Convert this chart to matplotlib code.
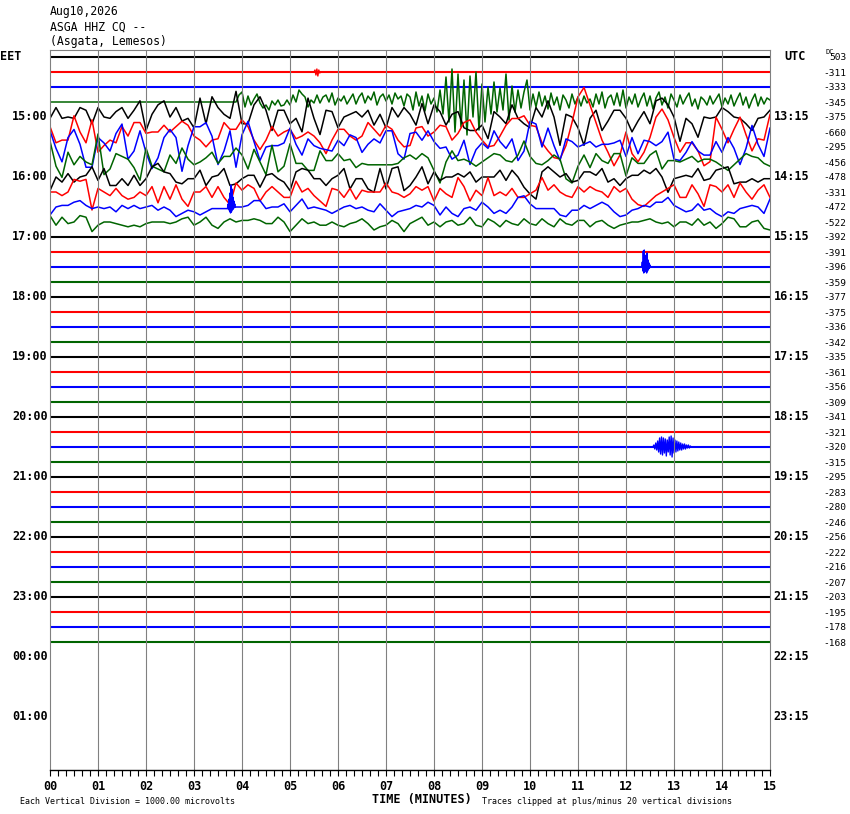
import matplotlib
matplotlib.use("Agg")
import matplotlib.pyplot as plt
import numpy as np

date_text = "Aug10,2026"
station_text = "ASGA HHZ CQ --"
place_text = "(Asgata, Lemesos)"

eet_hours = ["15:00", "16:00", "17:00", "18:00", "19:00", "20:00",
             "21:00", "22:00", "23:00", "00:00", "01:00"]
utc_hours = ["13:15", "14:15", "15:15", "16:15", "17:15", "18:15",
             "19:15", "20:15", "21:15", "22:15", "23:15"]
minute_labels = ["%02d" % m for m in range(16)]

dc_offsets = [503, -311, -333, -345, -375, -660, -295, -456, -478, -331,
              -472, -522, -392, -391, -396, -359, -377, -375, -336, -342,
              -335, -361, -356, -309, -341, -321, -320, -315, -295, -283,
              -280, -246, -256, -222, -216, -207, -203, -195, -178, -168]

trace_colors = ["black", "red", "blue", "#006400"]

# trace deflections in screen pixels (up = positive), spread evenly over 0..15 min
row3 = [0] * 60 + [
    0, 0, 0, 7, 10, -5, 6, -3, 3, 8, -1, -6, -3, -8, 1, -3, 2, -4, -3, 2,
    -3, 7, 0, 12, 8, 5, -5, 2, -1, 7, -1, 5, 7, 0, 9, -3, 4, 1, 6, -2,
    3, 8, -2, 5, 9, -1, 6, 2, 10, -3, 5, 8, 1, 7, -2, 9, 3, 6, -4, 8,
    5, -8, 10, -4, 6, -9, 8, -2, 4, -10, 12, -12, 25, -20, 33, -30, 28, -25, 22, -33,
    26, -15, 30, -28, 18, -20, 15, -12, 20, -10, 14, -8, 28, -18, 16, -10, 12, -6, 10, 22,
    -8, 8, -5, 10, -4, 6, -7, 9, -3, 5, -8, 7, 2, -6, 8, -2, 5, -4, 6, -1,
    3, -5, 8, -2, 10, -6, 4, 7, -3, 9, -4, 12, -6, 5, -2, 8, -5, 3, 9, -4,
    6, -7, 4, 10, -3, 5, -6, 8, 2, -5, 7, -2, 4, 9, -4, 3, -7, 5, 2, -3,
    6, -2, 3, 8, -5, 4, -2, 7, -4, 3, 9, -3, 5, -6, 2, 8, -4, 5, -2, 4, 2]
row4 = [
    -1, 7, -1, 0, -1, 7, 5, -5, 7, 0, -1, 4, 7, -1, 5, 12, -10, 2, 9, 12,
    0, 7, -3, -1, -8, 14, -5, 15, 7, 2, -1,
    19, -5, -5, 9, 15, 5, -10, 5, 5, -5, -1, -11, 14, -1, -13, 5, 4, -8, 0, 2,
    4, 0, 5, -6, 2, -8, 7, 0, 7, 2,
    -6, 10, -5, 9, 4, -6, 2, 4, -8, -10, -10, -6, -16, 4, 0, -5, 9, -1, -5, -8,
    7, 0, 12, 0, -21, 2, 0, -8, -21, -1,
    5, -10, -3, 5, 5, -1, -11, -3, 4, -5, 12, 14, 9, 0, -18, -1, -5, -15, 0, -1,
    0, 7, 4, 0, -1, -5, -10, -1, 0, 5]
row5 = [
    4, -8, -6, -6, 12, 0, -8, 9, -15, -10, -6, -8, 4, -3, 7, 7, -1, 0, 0, 5,
    0, 4, 8, 5, -3, -6, -11, -6, -5, 7, 2,
    2, 9, 4, -6, -13, -6, 4, -3, 0, 2, -5, -3, 0, -3, -8, -16, -6, 2, 2, -3,
    -6, -3, 7, 2, -3, 5, 2, -6, -11, -10,
    3, 4, -3, 0, 5, 4, -6, -1, 7, 9, 0, -6, -11, -10, -3, 5, 10, 10, 12, 5,
    4, -8, -14, -19, -20, -10, 7, 26, 33, 20,
    7, -6, -15, -25, -17, 0, -16, -22, -15, -4, 11, 17, 9, -4, -15, -8, -8, -14, -25, -22,
    11, 2, -8, 2, 11, -2, -14, -5, -6, 13]
row6 = [
    12, -1, -11, 7, 13, 2, -15, -15, 7, 3, -3, 10, 17, -9, -3, 12, -4, -16, -8, 7,
    13, 7, -18, 1, 15, 15, 18, 8, -13, -3, 12,
    -15, 9, 19, 4, -10, 0, 1, 1, 3, 14, 2, -6, 6, 1, -1, -2, -3, 5, 1, 9,
    7, -4, 2, 6, 3, 12, 12, -5, -9, 10,
    11, 5, 12, 4, -1, 0, -9, -6, 5, -13, -2, 3, -1, 12, 4, -1, 6, -10, -3, 19,
    17, 0, 14, 1, -10, 6, 4, 0, 2, 4,
    0, 2, 2, 3, 5, -7, 7, -5, 5, 4, 1, 4, 11, -9, -10, -4, 4, -3, -6, -6,
    4, -4, 7, -1, -13, -1, 16, 2, -7, 14]
row7 = [
    15, -3, -11, 7, -2, 4, 0, -2, 20, -9, -5, 6, 4, 2, -4, -13, 10, -3, -5, -7,
    5, -1, 10, 2, -2, 0, 3, 7, -1, 4, 4,
    10, 5, -5, 9, 0, -9, 12, -7, -3, 13, -1, -1, -6, -6, 8, 1, 1, 6, 1, 2,
    -4, -1, -2, -2, -2, -2, -2, -1, 3, 5,
    2, 6, 3, -6, -15, 0, 8, 1, 2, 0, -3, 0, 3, 6, 5, 1, 0, 5, 15, 4,
    -1, -2, 1, 5, 2, -12, -15, -3, 5, -4,
    6, 1, -1, 6, 6, -10, 3, -1, -1, 5, 8, -5, 1, 1, 0, 2, 4, 0, 2, 2,
    0, -3, -6, -2, 2, 6, 4, 3, -1, -3]
row8 = [
    -8, 0, -3, 2, -3, 0, 1, 6, -2, 5, -5, -5, -1, -5, 1, -5, -1, 6, 8, 3,
    2, -3, -4, -1, -1, 4, -5, 0, 1, 5, -5,
    -4, -1, 1, 1, -6, 1, 2, -1, -3, -8, 3, 5, 4, -1, -1, -5, -1, 1, 5, -7,
    -1, -1, -7, -9, 5, -7, 5, 6, -8, -5,
    0, 6, -4, 3, -2, 0, 0, 2, 0, 3, -3, 0, 0, 0, 4, -2, 4, 0, -6, -10,
    -13, 3, 6, 3, 0, 2, -3, -2, 3, 3,
    1, 5, -3, -1, -5, -1, 1, 1, 4, 2, 5, 0, -9, -1, 0, 1, 0, 5, -2, -1,
    4, 5, 6, -4, -3, -3, -1, -3, -1, -1]
row9 = [
    0, 0, -2, 0, 7, 6, 7, -10, 2, 0, -2, 2, -2, -4, -3, 0, -2, 3, -6, 3,
    -4, 4, -4, -8, 0, 0, 3, -3, 3, -3, -7,
    5, 1, 4, 2, -5, 0, 3, 0, -3, -3, 6, 0, 2, -2, -5, -8, 2, 1, -3, 2,
    -4, 1, 0, 0, 0, 5, 0, -1, -3, -1,
    3, 1, 3, -5, 2, -1, -3, 8, 3, -5, 1, -2, 8, -2, 0, -2, 2, -3, -3, -1,
    1, 8, 1, 4, 0, -2, -3, 3, 0, 3,
    1, 0, -3, 3, 0, 2, -4, -7, -8, -5, -2, 0, 2, 4, -3, -3, 4, -1, -8, 4,
    3, 0, 4, -3, 5, 0, -4, 1, 4, -3]
row10 = [
    -5, 0, 1, 1, 3, 4, 1, -1, 0, -1, 0, -3, 1, -1, 1, -1, 0, 1, -2, 0,
    -2, -6, -4, -2, -3, -5, -3, -1, -1, -1, -1,
    0, 0, 1, 4, 4, -1, 0, 0, 2, -3, 1, 5, -1, 0, -1, -2, -4, -2, 0, 1,
    -1, 0, -2, -3, 2, -2, -6, -3, -2, -1,
    1, 0, 3, 1, -5, 0, -4, -6, -1, 0, -2, 3, 0, -4, -2, -4, 0, 6, 7, 2,
    -1, -1, -1, -1, -5, -6, -2, -2, 1, -1,
    1, 3, 1, -3, -6, -5, -2, -1, 1, 0, 3, 3, 6, 1, -1, -3, -2, 2, -2, -1,
    -4, -6, -3, -4, -1, 0, 1, 0, -4, 5]
row11 = [
    4, -2, 3, -1, 0, 4, 3, -6, -2, 0, 0, -1, -2, -3, -2, -3, -1, 0, 0, 0,
    -1, 0, 2, 3, -2, 0, 3, -2, -4, 0, 2,
    0, 1, 1, 2, 1, -1, -1, 3, 0, -6, -2, 2, -1, 0, -2, -2, 0, -2, -3, -1,
    0, 2, -1, -5, -3, -2, 1, -1, -6, -1,
    1, 3, -2, 0, -3, 0, 1, -2, -1, 3, -2, -3, 2, 0, -3, 1, -1, -2, 2, -1,
    -2, 2, -1, -3, 2, -1, -2, 1, 1, -3,
    0, 1, -2, -4, -2, -1, 0, 0, 1, 2, 0, -1, 0, -3, 0, 0, -2, 2, -2, 0,
    -4, -1, 3, 2, -3, -3, 0, 1, -4, -5]
active_rows = {3: row3, 4: row4, 5: row5, 6: row6, 7: row7,
               8: row8, 9: row9, 10: row10, 11: row11}

# display gain for the coarse-sampled traces (row 3 is sampled finely)
row_gain = {3: 1.0, 4: 1.35, 5: 1.35, 6: 1.35, 7: 1.4,
            8: 1.7, 9: 1.8, 10: 1.6, 11: 1.6}

# local events: (row, start minute, sample step in minutes, deflections)
events = [
    (1, 5.50, 0.02, [0, 2, -3, 3, -4, 2, -1, 0]),
    (10, 3.70, 0.01, [0, 3, -2, 8, -4, 14, -6, 22, -5, 18, -3, 10, -2, 6, 1, 3, 0]),
    (14, 12.33, 0.01, [0, 5, -4, 16, -6, 17, -5, 8, -3, 12, -6, 14, -4, 7, -2, 4, -1, 2, 0]),
    (26, 12.56, 0.02, [0, 2, -2, 4, -3, 6, -5, 9, -7, 10, -8, 9, -6, 8, -9, 7, -5, 10, -8, 11,
                       -10, 9, -6, 7, -5, 6, -4, 5, -3, 4, -3, 3, -2, 3, -2, 2, -1, 2, -1, 1, 0]),
]

W, H = 850, 814
ROW_PX = 15.0
mono = "DejaVu Sans Mono"

fig = plt.figure(figsize=(W / 100, H / 100), dpi=100)
fig.patch.set_facecolor("white")
ax = fig.add_axes([50 / W, 44 / H, 720 / W, 720 / H])
ax.set_xlim(0, 15)
ax.set_ylim(713 / ROW_PX, -7 / ROW_PX)

for row in range(len(dc_offsets)):
    color = trace_colors[row % 4]
    if row in active_rows:
        vals = np.array(active_rows[row], dtype=float) * row_gain[row]
        t = np.linspace(0, 15, len(vals))
        ax.plot(t, row - vals / ROW_PX, color=color, lw=1.1, zorder=2)
    else:
        ax.plot([0, 15], [row, row], color=color, lw=1.5, zorder=2)

for row, t0, step, vals in events:
    vals = np.array(vals, dtype=float)
    t = t0 + step * np.arange(len(vals))
    ax.plot(t, row - vals / ROW_PX, color=trace_colors[row % 4], lw=1.0, zorder=3)

ax.vlines(range(1, 15), *ax.get_ylim(), color="#808080", lw=0.8, zorder=4)
for side in ["left", "right", "top"]:
    ax.spines[side].set_color("#808080")
    ax.spines[side].set_linewidth(0.8)
ax.spines["bottom"].set_color("black")
ax.spines["bottom"].set_linewidth(1.0)
ax.spines["bottom"].set_zorder(5)

ax.set_yticks([])
ax.set_xticks(range(16))
ax.set_xticklabels(minute_labels, fontfamily=mono, fontweight="bold", fontsize=8.5)
ax.set_xticks(np.arange(0, 15.01, 1 / 6), minor=True)
ax.tick_params(axis="x", which="both", direction="out", length=4.5, width=0.8,
               color="black", pad=3)

for i, lab in enumerate(eet_hours):
    ax.text(-0.05, 4 * (i + 1), lab, ha="right", va="center", fontfamily=mono,
            fontweight="bold", fontsize=8.5, clip_on=False)
for i, lab in enumerate(utc_hours):
    ax.text(15.08, 4 * (i + 1), lab, ha="left", va="center", fontfamily=mono,
            fontweight="bold", fontsize=8.5, clip_on=False)
ax.text(-1.04, 0, "EET", ha="left", va="center", fontfamily=mono,
        fontweight="bold", fontsize=8.5, clip_on=False)
ax.text(15.3, 0, "UTC", ha="left", va="center", fontfamily=mono,
        fontweight="bold", fontsize=8.5, clip_on=False)
for row, val in enumerate(dc_offsets):
    ax.text(16.6, row + 1 / ROW_PX, str(val), ha="right", va="center",
            fontfamily=mono, fontsize=6.8, clip_on=False)
fig.text(825 / W, 1 - 52 / H, "DC", ha="left", va="center", fontfamily=mono,
         fontsize=5)

fig.text(50 / W, 1 - 12 / H, date_text, ha="left", va="center", fontfamily=mono, fontsize=8.3)
fig.text(50 / W, 1 - 27 / H, station_text, ha="left", va="center", fontfamily=mono, fontsize=8.3)
fig.text(50 / W, 1 - 42 / H, place_text, ha="left", va="center", fontfamily=mono, fontsize=8.3)

fig.text(422 / W, 1 - 799 / H, "TIME (MINUTES)", ha="center", va="center",
         fontfamily=mono, fontweight="bold", fontsize=8.5)
fig.text(20 / W, 1 - 801 / H, "Each Vertical Division = 1000.00 microvolts", ha="left",
         va="center", fontfamily=mono, fontsize=6)
fig.text(482 / W, 1 - 801 / H, "Traces clipped at plus/minus 20 vertical divisions", ha="left",
         va="center", fontfamily=mono, fontsize=6)

fig.savefig("out.png", dpi=100, facecolor="white")
